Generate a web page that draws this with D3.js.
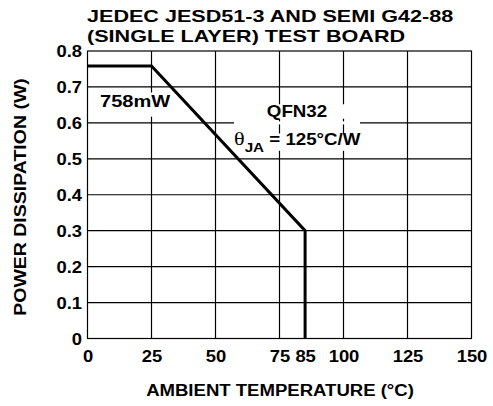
<html>
<script src="https://d3js.org/d3.v7.min.js"></script>
<style>
body { margin: 0; background: #fff; }
text { font-family: "Liberation Sans", Arial, sans-serif; font-weight: bold; fill: #000; }
</style>
<body>
<svg width="493" height="406" id="chart"></svg>
<script>
// curve: flat at 758mW to 25C, derate to 85C, then drop
var tempC = [0, 25, 85, 85];
var powerW = [0.758, 0.758, 0.3, 0];
var xTicks = [0, 25, 50, 75, 85, 100, 125, 150];
var xGrid = [25, 50, 75, 100, 125];
var yTicks = [0, 0.1, 0.2, 0.3, 0.4, 0.5, 0.6, 0.7, 0.8];
var titleLines = ["JEDEC JESD51-3 AND SEMI G42-88", "(SINGLE LAYER) TEST BOARD"];

var svg = d3.select("#chart");
var x = d3.scaleLinear().domain([0, 150]).range([87.5, 471.5]);
var y = d3.scaleLinear().domain([0, 0.8]).range([338.5, 51]);

// text in the original is drawn a bit wide, so stretch it horizontally
function label(g, px, py, str, anchor, size, sx) {
  return g.append("text")
    .attr("transform", "translate(" + px + "," + py + ") scale(" + sx + ",1)")
    .attr("text-anchor", anchor)
    .style("font-size", size + "px")
    .text(str);
}

var grid = svg.append("g");
grid.selectAll(".v").data(xGrid).enter().append("line")
  .attr("x1", d => x(d)).attr("x2", d => x(d))
  .attr("y1", y(0)).attr("y2", y(0.8))
  .attr("stroke", "#000").attr("stroke-width", 1.2);
grid.selectAll(".h").data(yTicks.slice(1, -1)).enter().append("line")
  .attr("x1", x(0)).attr("x2", x(150))
  .attr("y1", d => y(d)).attr("y2", d => y(d))
  .attr("stroke", "#000").attr("stroke-width", 1.2);

// labels inside the plot sit on white boxes that cut the grid
var notes = svg.append("g");
function boxed(build, padX, padTop, padBot) {
  var g = notes.append("g");
  var bg = g.append("rect").attr("fill", "#fff");
  build(g);
  var b = g.node().getBBox();
  bg.attr("x", b.x - padX).attr("y", b.y - padTop)
    .attr("width", b.width + 2 * padX).attr("height", b.height + padTop + padBot);
}
boxed(g => label(g, 100, 107, "758mW", "start", 17, 1.18), 2, -1, 6);
boxed(g => label(g, 297, 117, "QFN32", "middle", 16, 1.17), 30, -2, -2);
boxed(function(g) {
  var t = g.append("text").attr("transform", "translate(234,145) scale(1.17,1)")
    .style("font-size", "16px");
  t.append("tspan").style("font-family", "'Liberation Serif', serif").style("font-weight", "normal")
    .style("font-size", "19px").text("\u03b8");
  t.append("tspan").attr("dy", 7).style("font-size", "13px").text("JA");
  t.append("tspan").attr("dy", -7).text(" = 125\u00b0C/W");
}, 2, -5, -4);
// gap in the 0.6 grid line under the theta label
notes.append("rect").attr("x", 234).attr("width", 126)
  .attr("y", y(0.6) - 1.5).attr("height", 3).attr("fill", "#fff");

svg.append("rect")
  .attr("x", x(0)).attr("y", y(0.8))
  .attr("width", x(150) - x(0)).attr("height", y(0) - y(0.8))
  .attr("fill", "none").attr("stroke", "#000").attr("stroke-width", 1.2);

var line = d3.line().x(d => x(d[0])).y(d => y(d[1]));
svg.append("path")
  .datum(d3.zip(tempC, powerW))
  .attr("d", line)
  .attr("fill", "none").attr("stroke", "#000").attr("stroke-width", 3)
  .attr("stroke-linejoin", "miter");

// axes: labels only, the frame is drawn above
var tx = 1.15;
var xa = svg.append("g").attr("transform", "translate(0," + y(0) + ")")
  .call(d3.axisBottom(x).tickValues(xTicks).tickSize(0).tickFormat(d3.format("d")));
xa.select(".domain").remove();
xa.selectAll("text").attr("y", 23.5).attr("dy", 0).attr("x", 0)
  .attr("transform", "scale(" + tx + ",1)")
  .style("font-size", "16px").style("font-family", null);

var ya = svg.append("g").attr("transform", "translate(" + x(0) + ",0)")
  .call(d3.axisLeft(y).tickValues(yTicks).tickSize(0)
    .tickFormat(d => d === 0 ? "0" : d3.format(".1f")(d)));
ya.select(".domain").remove();
ya.selectAll("text").attr("x", -5.5 / tx).attr("dy", "0.36em")
  .attr("transform", "scale(" + tx + ",1)")
  .style("font-size", "16px").style("font-family", null);

titleLines.forEach(function(s, i) {
  label(svg, 87, 21.5 + i * 20, s, "start", 17, 1.27);
});

label(svg, 280, 396, "AMBIENT TEMPERATURE (\u00b0C)", "middle", 16, 1.16);
svg.append("text")
  .attr("transform", "translate(26,197) rotate(-90) scale(1.22,1)")
  .attr("text-anchor", "middle")
  .style("font-size", "16px")
  .text("POWER DISSIPATION (W)");
</script>
</body>
</html>
